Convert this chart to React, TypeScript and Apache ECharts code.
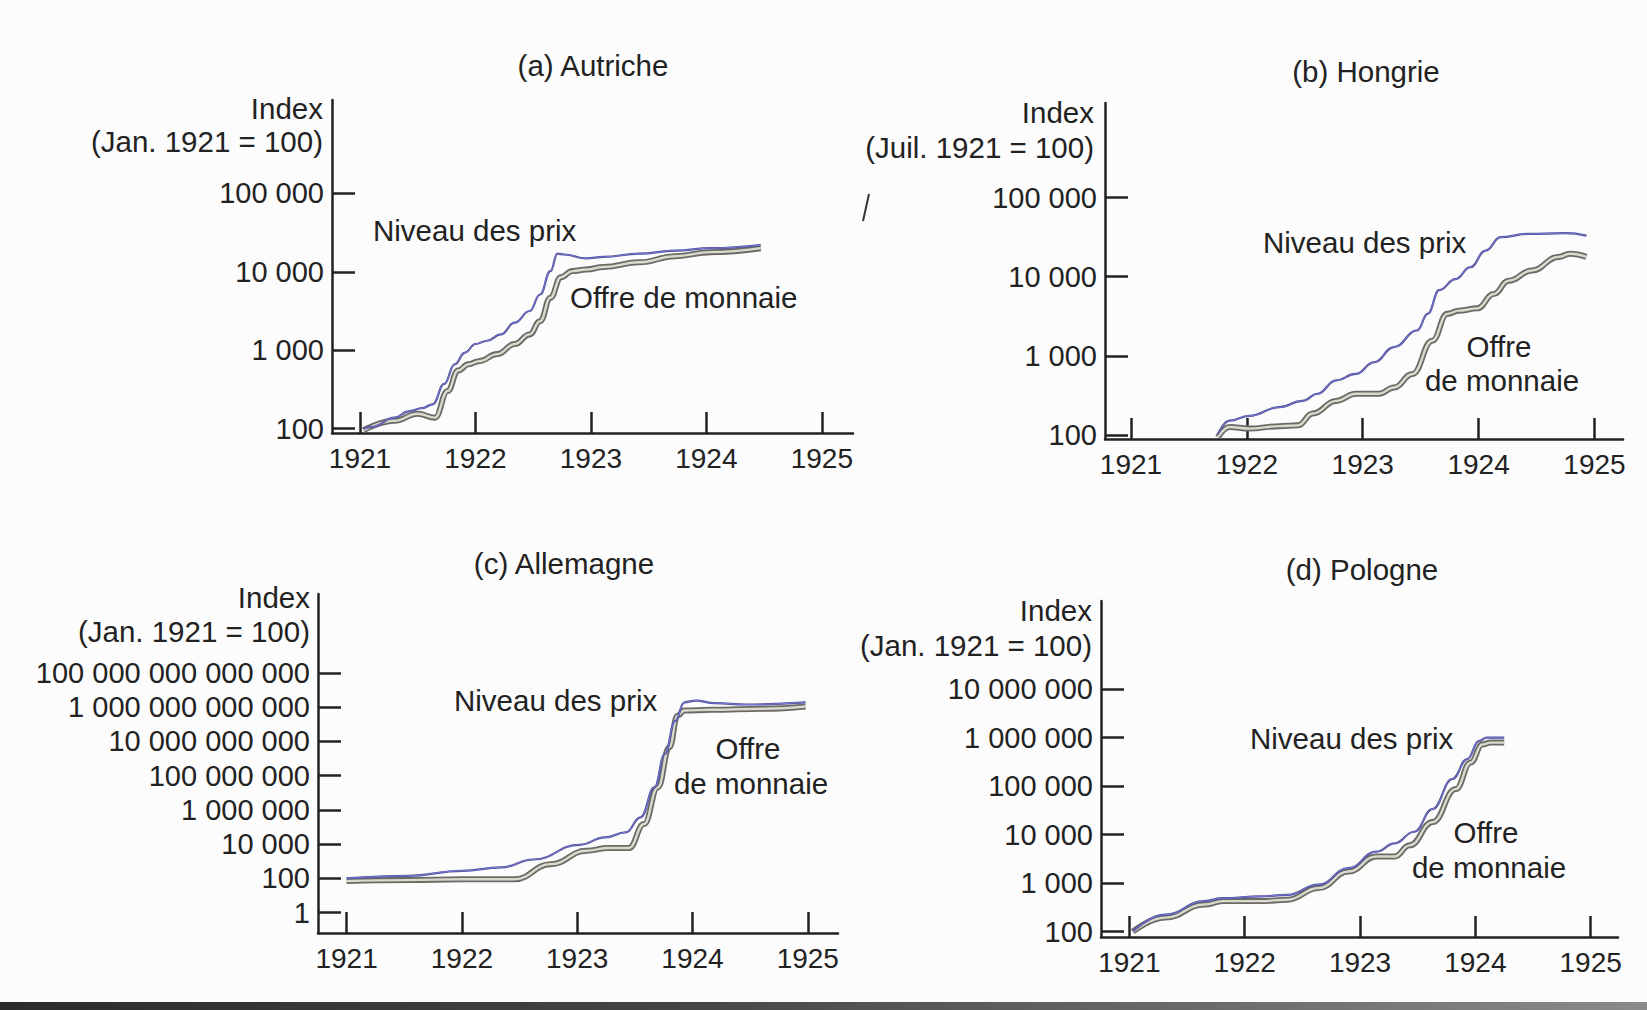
import React, { useEffect, useRef } from 'react';
import * as echarts from 'echarts';

// ---------- tick values ----------
const xTicks = [1921, 1922, 1923, 1924, 1925];
const yTicksAutriche = [100, 1000, 10000, 100000];
const yTicksHongrie = [100, 1000, 10000, 100000];
const yTicksAllemagne = [1, 100, 10000, 1000000, 100000000, 10000000000, 1000000000000, 100000000000000];
const yTicksPologne = [100, 1000, 10000, 100000, 1000000, 10000000];

// ---------- titles / labels ----------
const titles = ['(a) Autriche', '(b) Hongrie', '(c) Allemagne', '(d) Pologne'];
const baseLabels = ['(Jan. 1921 = 100)', '(Juil. 1921 = 100)', '(Jan. 1921 = 100)', '(Jan. 1921 = 100)'];

// ---------- series [year, index] ----------
const autrichePrix = [
  [1921.03, 100], [1921.1, 105], [1921.3, 138], [1921.42, 166], [1921.54, 182], [1921.63, 204],
  [1921.73, 372], [1921.82, 661], [1921.91, 933], [1922.0, 1200], [1922.1, 1320], [1922.22, 1590],
  [1922.34, 2240], [1922.47, 3160], [1922.56, 5130], [1922.65, 10200], [1922.71, 17000],
  [1922.77, 16600], [1922.96, 14800], [1923.11, 15500], [1923.42, 17000], [1923.73, 18600],
  [1924.04, 20000], [1924.47, 21900],
];
const autricheMonnaie = [
  [1921.03, 95], [1921.3, 126], [1921.5, 155], [1921.65, 138], [1921.76, 302], [1921.85, 550],
  [1921.94, 661], [1922.03, 724], [1922.19, 891], [1922.34, 1200], [1922.47, 1590], [1922.56, 2340],
  [1922.65, 4680], [1922.74, 8510], [1922.84, 10200], [1922.96, 10700], [1923.11, 11500],
  [1923.42, 13200], [1923.73, 15800], [1924.04, 17800], [1924.47, 20000],
];
const hongriePrix = [
  [1921.75, 102], [1921.85, 151], [1922.02, 174], [1922.28, 224], [1922.48, 269], [1922.61, 331],
  [1922.77, 490], [1922.94, 589], [1923.1, 832], [1923.27, 1290], [1923.47, 2090], [1923.56, 3390],
  [1923.66, 6760], [1923.8, 9330], [1923.93, 13200], [1924.06, 21400], [1924.19, 31600],
  [1924.42, 34700], [1924.75, 35500], [1924.93, 33100],
];
const hongrieMonnaie = [
  [1921.75, 93], [1921.85, 126], [1922.02, 120], [1922.28, 129], [1922.44, 132], [1922.57, 186],
  [1922.77, 269], [1922.94, 331], [1923.14, 331], [1923.27, 398], [1923.43, 589], [1923.6, 1550],
  [1923.73, 3390], [1923.83, 3720], [1923.99, 3980], [1924.13, 6030], [1924.26, 8910],
  [1924.46, 12000], [1924.69, 17800], [1924.79, 19500], [1924.93, 17800],
];
const allemagnePrix = [
  [1921.0, 100], [1921.53, 141], [1922.0, 275], [1922.34, 437], [1922.62, 1260], [1923.02, 9120],
  [1923.24, 24500], [1923.42, 47900], [1923.55, 363000], [1923.67, 20400000], [1923.76, 1820000000],
  [1923.85, 158000000000], [1923.93, 1900000000000], [1924.03, 2400000000000],
  [1924.19, 1700000000000], [1924.47, 1410000000000], [1924.98, 1900000000000],
];
const allemagneMonnaie = [
  [1921.0, 70], [1921.53, 79], [1922.0, 89], [1922.46, 89], [1922.77, 676], [1923.08, 4070],
  [1923.27, 5890], [1923.45, 5890], [1923.58, 148000], [1923.7, 20400000], [1923.8, 4470000000],
  [1923.87, 316000000000], [1923.93, 630000000000], [1924.16, 690000000000],
  [1924.62, 790000000000], [1924.98, 1070000000000],
];
const polognePrix = [
  [1921.03, 102], [1921.31, 224], [1921.65, 427], [1921.81, 490], [1922.14, 537], [1922.37, 575],
  [1922.64, 933], [1922.9, 2040], [1923.14, 4470], [1923.3, 6610], [1923.47, 11500], [1923.63, 33900],
  [1923.8, 141000], [1923.93, 363000], [1924.03, 851000], [1924.1, 1000000], [1924.25, 1000000],
];
const pologneMonnaie = [
  [1921.03, 100], [1921.31, 195], [1921.65, 363], [1921.81, 427], [1922.14, 427], [1922.37, 457],
  [1922.64, 794], [1922.9, 1740], [1923.14, 3550], [1923.3, 3550], [1923.43, 6030], [1923.63, 18200],
  [1923.83, 87100], [1923.96, 309000], [1924.06, 724000], [1924.13, 794000], [1924.25, 794000],
];

const FONT = 'Liberation Sans, Arial, sans-serif';
const INK = '#222';
const TXT = 29.5;

const fmtNum = (v: number) =>
  String(Math.round(v)).replace(/\B(?=(\d{3})+(?!\d))/g, ' ');

export default function App() {
  const ref = useRef<HTMLDivElement>(null);

  useEffect(() => {
    document.body.style.margin = '0';
    if (!ref.current) return;
    const chart = echarts.init(ref.current, null, { renderer: 'svg' });

    const panels = [
      { grid: { left: 332, top: 100, width: 521, height: 333 }, x: [1920.758, 1925.27], y: [87.9, 1550000], yt: yTicksAutriche, prix: autrichePrix, mon: autricheMonnaie },
      { grid: { left: 1105, top: 103, width: 518, height: 336 }, x: [1920.776, 1925.246], y: [88.7, 1570000], yt: yTicksHongrie, prix: hongriePrix, mon: hongrieMonnaie },
      { grid: { left: 318, top: 594, width: 520, height: 339 }, x: [1920.752, 1925.262], y: [0.0646, 3.98e18], yt: yTicksAllemagne, prix: allemagnePrix, mon: allemagneMonnaie },
      { grid: { left: 1101, top: 601, width: 517, height: 336 }, x: [1920.754, 1925.237], y: [77.7, 6.6e8], yt: yTicksPologne, prix: polognePrix, mon: pologneMonnaie },
    ];

    const axisLine = { show: true, lineStyle: { color: INK, width: 2.5 } };

    const grids = panels.map((p) => ({ ...p.grid, outerBoundsMode: 'none', containLabel: false }));
    const xAxes = panels.map((p, i) => ({
      type: 'value', gridIndex: i, min: p.x[0], max: p.x[1],
      axisLine, splitLine: { show: false },
      axisTick: { show: true, inside: true, length: 21, customValues: xTicks, lineStyle: { color: INK, width: 2.5 } },
      axisLabel: { color: INK, fontSize: 28, fontFamily: FONT, margin: 11, customValues: xTicks, formatter: (v: number) => String(Math.round(v)) },
    }));
    const yAxes = panels.map((p, i) => ({
      type: 'log', logBase: 10, gridIndex: i, min: p.y[0], max: p.y[1],
      axisLine, splitLine: { show: false },
      axisTick: { show: true, inside: true, length: 23, customValues: p.yt, lineStyle: { color: INK, width: 2.5 } },
      axisLabel: { color: INK, fontSize: 29, fontFamily: FONT, margin: 8, customValues: p.yt, formatter: (v: number) => fmtNum(v) },
    }));

    const series: any[] = [];
    panels.forEach((p, i) => {
      const common = { type: 'line', xAxisIndex: i, yAxisIndex: i, showSymbol: false, smooth: 0.45, smoothMonotone: 'x', silent: true };
      series.push({ ...common, name: 'Offre de monnaie', data: p.mon, lineStyle: { color: '#6a6a66', width: 6 }, z: 2 });
      series.push({ ...common, name: 'Offre de monnaie (int.)', data: p.mon, lineStyle: { color: '#d9d9cc', width: 2.4 }, z: 3 });
      series.push({ ...common, name: 'Niveau des prix', data: p.prix, lineStyle: { color: '#4c4c8c', width: 2.2 }, z: 4 });
      series.push({ ...common, name: 'Niveau des prix (bleu)', data: p.prix, lineStyle: { color: '#7a7ae0', width: 1 }, z: 5 });
    });

    const t = (text: string, x: number, y: number, align = 'left', size = TXT) => ({
      type: 'text', x, y, silent: true,
      style: { text, fill: INK, font: `${size}px ${FONT}`, align, verticalAlign: 'middle' },
    });

    const graphic: any[] = [
      t(titles[0], 593, 65, 'center'),
      t(titles[1], 1366, 71, 'center'),
      t(titles[2], 564, 563, 'center'),
      t(titles[3], 1362, 569, 'center'),
      t('Index', 323, 108, 'right'), t(baseLabels[0], 323, 141, 'right'),
      t('Index', 1094, 112, 'right'), t(baseLabels[1], 1094, 147, 'right'),
      t('Index', 310, 597, 'right'), t(baseLabels[2], 310, 631, 'right'),
      t('Index', 1092, 610, 'right'), t(baseLabels[3], 1092, 645, 'right'),
      t('Niveau des prix', 373, 230),
      t('Offre de monnaie', 570, 297),
      t('Niveau des prix', 1263, 242),
      t('Offre', 1499, 346, 'center'), t('de monnaie', 1502, 380, 'center'),
      t('Niveau des prix', 454, 700),
      t('Offre', 748, 748, 'center'), t('de monnaie', 751, 783, 'center'),
      t('Niveau des prix', 1250, 738),
      t('Offre', 1486, 832, 'center'), t('de monnaie', 1489, 867, 'center'),
      { type: 'line', silent: true, shape: { x1: 863, y1: 221, x2: 869, y2: 194 }, style: { stroke: '#333', lineWidth: 2 } },
      {
        type: 'rect', silent: true, shape: { x: 0, y: 1002, width: 1647, height: 8 },
        style: {
          fill: new echarts.graphic.LinearGradient(0, 0, 1, 0, [
            { offset: 0, color: '#2b2b2b' }, { offset: 0.4, color: '#444' }, { offset: 1, color: '#8a8a8a' },
          ]),
        },
      },
    ];

    chart.setOption({
      animation: false,
      backgroundColor: '#fcfcfc',
      grid: grids,
      xAxis: xAxes,
      yAxis: yAxes,
      series,
      graphic,
    });

    return () => chart.dispose();
  }, []);

  return <div ref={ref} style={{ width: 1647, height: 1010 }} />;
}
